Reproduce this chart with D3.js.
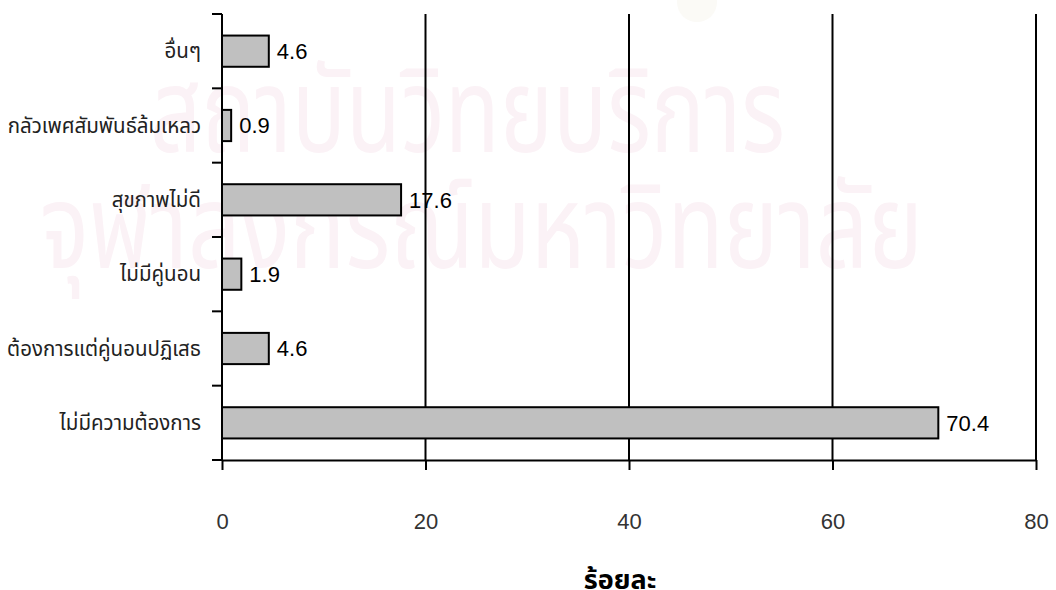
<!DOCTYPE html>
<html>
<head>
<meta charset="utf-8">
<script src="https://cdn.jsdelivr.net/npm/d3@7"></script>
<style>
  html, body { margin: 0; padding: 0; background: #fff; }
  svg { display: block; }
</style>
</head>
<body>
<svg id="chart" width="1056" height="590"></svg>
<script>
// Reasons (top to bottom) and their percentages
const categories = [
  "อื่นๆ",
  "กลัวเพศสัมพันธ์ล้มเหลว",
  "สุขภาพไม่ดี",
  "ไม่มีคู่นอน",
  "ต้องการแต่คู่นอนปฏิเสธ",
  "ไม่มีความต้องการ"
];
const values = [4.6, 0.9, 17.6, 1.9, 4.6, 70.4];
const xTicks = [0, 20, 40, 60, 80];
const xTitle = "ร้อยละ";
const watermarkLines = ["สถาบันวิทยบริการ", "จุฬาลงกรณ์มหาวิทยาลัย"];

const svg = d3.select("#chart");
const margin = { top: 14, left: 222 };
const plotRight = 1036, plotBottom = 460;

const x = d3.scaleLinear().domain([0, 80]).range([margin.left, plotRight]);
const y = d3.scaleBand().domain(categories).range([margin.top, plotBottom]).paddingInner(0.58).paddingOuter(0.29);
const yTicks = d3.scaleBand().domain(categories).range([margin.top, plotBottom]);

const thaiFont = "'Noto Sans Thai', 'Noto Sans', 'DejaVu Sans', sans-serif";
const numFont = "'Liberation Sans', Arial, sans-serif";

// faint background lettering
const wm = svg.append("g").attr("fill", "#fbf2f6").attr("font-family", thaiFont).attr("font-size", 118);
wm.append("circle").attr("cx", 697).attr("cy", 2).attr("r", 20).attr("fill", "#fbfaf6");
wm.append("text").attr("x", 150).attr("y", 152)
  .attr("textLength", 635).attr("lengthAdjust", "spacingAndGlyphs").text(watermarkLines[0]);
wm.append("text").attr("x", 40).attr("y", 268)
  .attr("textLength", 883).attr("lengthAdjust", "spacingAndGlyphs").text(watermarkLines[1]);

// vertical gridlines
svg.append("g").selectAll("line").data(xTicks.filter(d => d > 0)).join("line")
  .attr("x1", d => x(d)).attr("x2", d => x(d))
  .attr("y1", margin.top).attr("y2", plotBottom)
  .attr("stroke", "#000").attr("stroke-width", 2);

// bars
svg.append("g").selectAll("rect").data(categories).join("rect")
  .attr("x", x(0))
  .attr("y", d => y(d))
  .attr("width", (d, i) => x(values[i]) - x(0))
  .attr("height", y.bandwidth())
  .attr("fill", "#c0c0c0")
  .attr("stroke", "#000")
  .attr("stroke-width", 2);

// value labels
svg.append("g").selectAll("text").data(categories).join("text")
  .attr("x", (d, i) => x(values[i]) + 8)
  .attr("y", d => y(d) + y.bandwidth() / 2)
  .attr("dy", "0.36em")
  .attr("font-family", numFont)
  .attr("font-size", 22)
  .attr("fill", "#000")
  .text((d, i) => values[i].toFixed(1));

// x axis
const xAxis = d3.axisBottom(x).tickValues(xTicks).tickSize(10).tickFormat(d3.format("d")).tickSizeOuter(0);
const gx = svg.append("g").attr("transform", `translate(0,${plotBottom})`).call(xAxis);
gx.select(".domain").attr("stroke", "#000").attr("stroke-width", 2);
gx.selectAll(".tick line").attr("stroke", "#000").attr("stroke-width", 2);
gx.selectAll(".tick text")
  .attr("y", 69).attr("dy", "0")
  .attr("font-family", numFont).attr("font-size", 22).attr("fill", "#333");

// y axis: ticks on category boundaries
const boundaries = categories.map(c => yTicks(c)).concat([plotBottom]);
const gy = svg.append("g");
gy.append("line").attr("x1", x(0)).attr("x2", x(0)).attr("y1", margin.top).attr("y2", plotBottom)
  .attr("stroke", "#000").attr("stroke-width", 2);
gy.selectAll("line.tk").data(boundaries).join("line").attr("class", "tk")
  .attr("x1", x(0) - 10).attr("x2", x(0))
  .attr("y1", d => d).attr("y2", d => d)
  .attr("stroke", "#000").attr("stroke-width", 2);
gy.selectAll("text").data(categories).join("text")
  .attr("x", 201)
  .attr("y", d => yTicks(d) + yTicks.bandwidth() / 2)
  .attr("dy", "0.35em")
  .attr("text-anchor", "end")
  .attr("font-family", thaiFont)
  .attr("font-size", 20.5)
  .attr("fill", "#222")
  .text(d => d);

// axis title
svg.append("text")
  .attr("x", 620).attr("y", 589)
  .attr("text-anchor", "middle")
  .attr("font-family", thaiFont)
  .attr("font-weight", "bold")
  .attr("font-size", 27)
  .attr("fill", "#000")
  .text(xTitle);
</script>
</body>
</html>
